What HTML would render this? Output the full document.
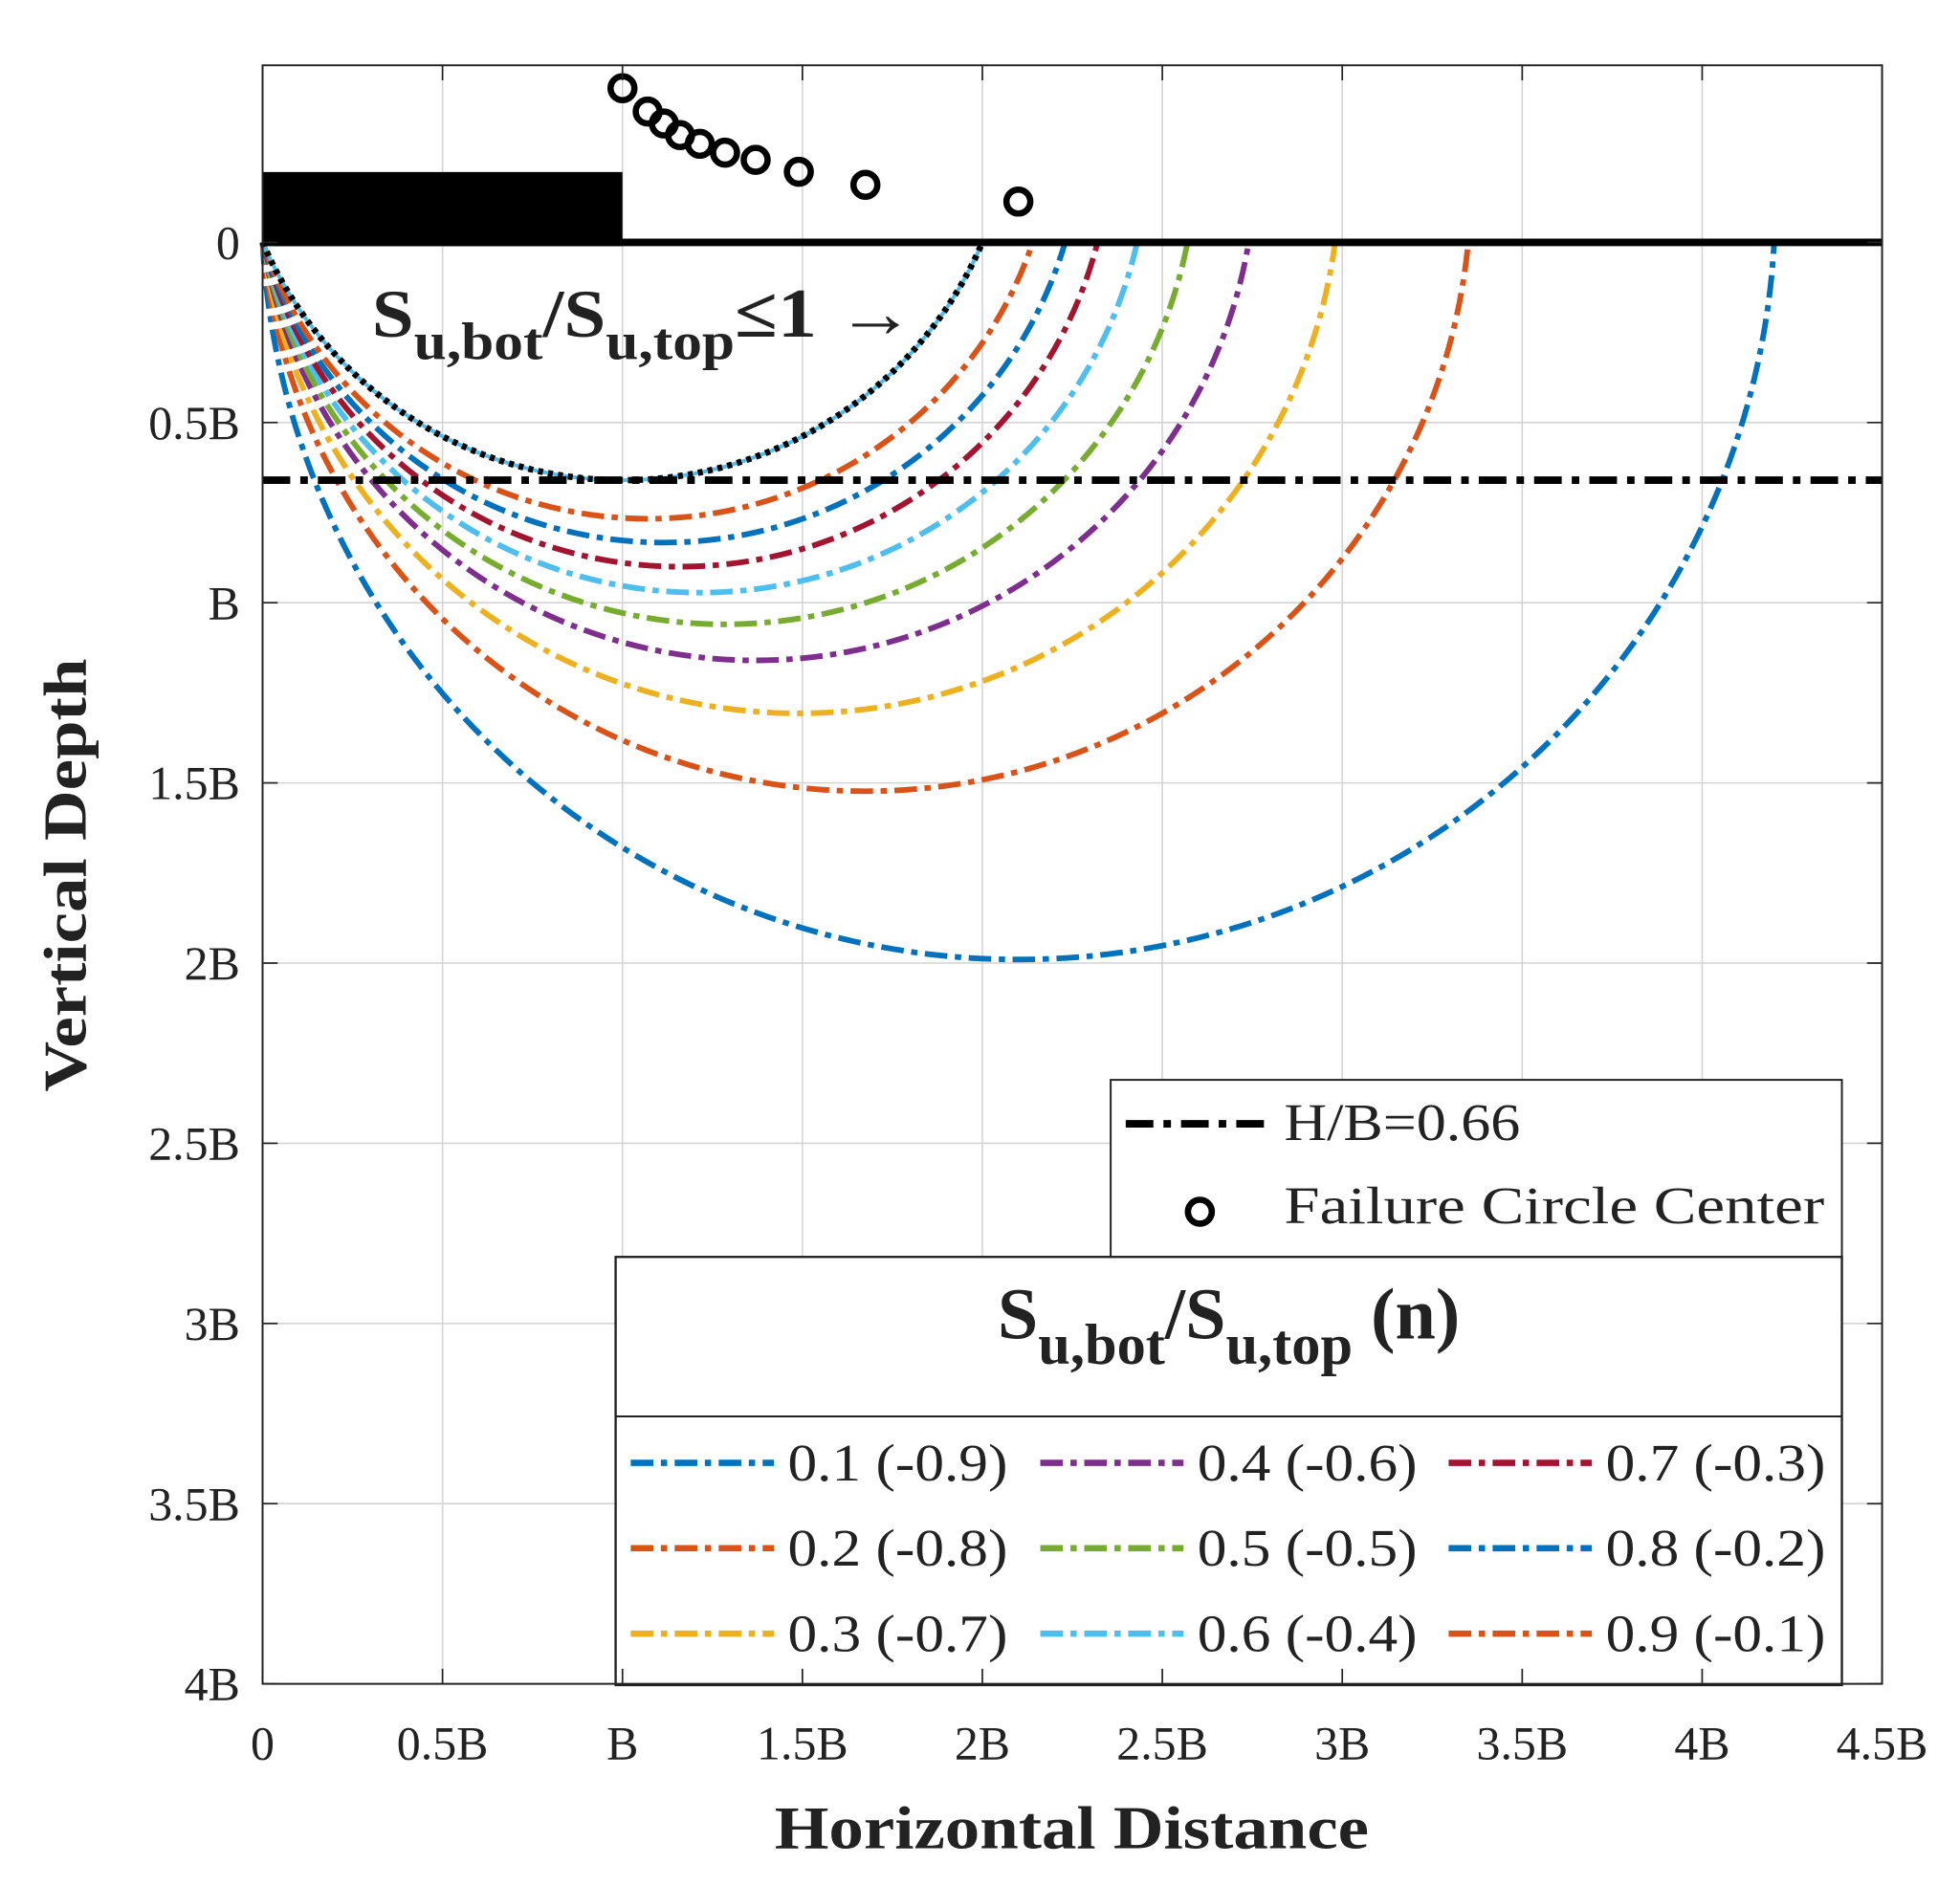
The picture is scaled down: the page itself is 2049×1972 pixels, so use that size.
<!DOCTYPE html>
<html><head><meta charset="utf-8"><style>
html,body{margin:0;padding:0;background:#fff}
svg{display:block}
text{font-family:"Liberation Serif",serif;fill:#222}
</style></head><body>
<svg id="chart" width="2049" height="1972" viewBox="0 0 1560 1502" preserveAspectRatio="none" xmlns="http://www.w3.org/2000/svg">
<g id="grid"></g>
<g id="arcs"></g>
<g id="fixed"></g>
<g id="axes"></g>
</svg>
<script>
const ratios = ["0.1 (-0.9)","0.2 (-0.8)","0.3 (-0.7)","0.4 (-0.6)","0.5 (-0.5)","0.6 (-0.4)","0.7 (-0.3)","0.8 (-0.2)","0.9 (-0.1)"];
const exitX = [4.20,3.35,2.98,2.74,2.57,2.43,2.32,2.23,2.14];
const bottomDepth = [1.99,1.523,1.307,1.16,1.06,0.972,0.90,0.833,0.767];
const colors = ["#0072BD","#D95319","#EDB120","#7E2F8E","#77AC30","#4DBEEE","#A2142F","#0072BD","#D95319"];
const refExit = 2.0, refDepth = 0.66;
const hOverB = 0.66;
const xTickVals = [0,0.5,1,1.5,2,2.5,3,3.5,4,4.5];
const xTickLabels = ["0","0.5B","B","1.5B","2B","2.5B","3B","3.5B","4B","4.5B"];
const yTickVals = [0,0.5,1,1.5,2,2.5,3,3.5,4];
const yTickLabels = ["0","0.5B","B","1.5B","2B","2.5B","3B","3.5B","4B"];

const L=209,R=1498,T=52,Bt=1341,Y0=193;
const sx=(R-L)/4.5, sy=(Bt-Y0)/4;
const px=v=>L+v*sx, py=v=>Y0+v*sy;
const NS="http://www.w3.org/2000/svg";
function mk(tag,attrs,parent,txt){const e=document.createElementNS(NS,tag);for(const k in attrs)e.setAttribute(k,attrs[k]);if(txt!==undefined)e.textContent=txt;parent.appendChild(e);return e;}
const grid=document.getElementById('grid'),arcs=document.getElementById('arcs'),fixed=document.getElementById('fixed'),axes=document.getElementById('axes');
const DD="18 6 5 6";

xTickVals.forEach((v,i)=>{
  const g=mk('line',{x1:px(v),x2:px(v),y1:T,y2:Bt,stroke:'#d4d4d4','stroke-width':1.2},grid);
  
  mk('line',{x1:px(v),x2:px(v),y1:Bt,y2:Bt-12,stroke:'#222','stroke-width':1.3},axes);
  mk('line',{x1:px(v),x2:px(v),y1:T,y2:T+12,stroke:'#222','stroke-width':1.3},axes);
  const t=mk('text',{x:px(v),y:1401,'font-size':38,'text-anchor':'middle'},axes,xTickLabels[i]);
  
});
yTickVals.forEach((v,i)=>{
  const g=mk('line',{x1:L,x2:R,y1:py(v),y2:py(v),stroke:'#d4d4d4','stroke-width':1.2},grid);
  
  mk('line',{x1:L,x2:L+12,y1:py(v),y2:py(v),stroke:'#222','stroke-width':1.3},axes);
  mk('line',{x1:R,x2:R-12,y1:py(v),y2:py(v),stroke:'#222','stroke-width':1.3},axes);
  const t=mk('text',{x:191,y:py(v)+13,'font-size':38,'text-anchor':'end'},axes,yTickLabels[i]);
  
});
const box=mk('rect',{x:L,y:T,width:R-L,height:Bt-T,fill:'none',stroke:'#222','stroke-width':1.5},axes);


function arcPath(xe,d){
  const c=((xe/2)**2-d*d)/(2*d); const r=c+d;
  return {d:`M${px(0)},${py(0)} A${r*sx},${r*sy} 0 ${c>0?0:1} 0 ${px(xe)},${py(0)}`, cx:xe/2, cy:-c};
}
const centers=[];
exitX.forEach((xe,i)=>{
  const a=arcPath(xe,bottomDepth[i]);
  const p=mk('path',{d:a.d,fill:'none',stroke:colors[i],'stroke-width':4.5,'stroke-dasharray':DD},arcs);
  
  centers.push(a);
});
const ra=arcPath(refExit,refDepth);
const rb=mk('path',{d:ra.d,fill:'none',stroke:'#000','stroke-width':5,'stroke-dasharray':'4 4'},arcs);

const rl=mk('path',{d:ra.d,fill:'none',stroke:'#4DBEEE','stroke-width':3,'stroke-dasharray':'4 4','stroke-dashoffset':4},arcs);

centers.push(ra);

const ft=mk('rect',{x:px(0),y:137,width:px(1)-px(0),height:py(0)-137+3,fill:'#000'},fixed);

const gl=mk('line',{x1:L,x2:R,y1:py(0),y2:py(0),stroke:'#000','stroke-width':6},fixed);

const hl=mk('line',{x1:L,x2:R,y1:py(hOverB),y2:py(hOverB),stroke:'#000','stroke-width':6,'stroke-dasharray':'22 8 6 8'},fixed);

centers.forEach(a=>{
  const c=mk('circle',{cx:px(a.cx),cy:py(a.cy),r:9.5,fill:'none',stroke:'#000','stroke-width':5},fixed);
  
});
const an=mk('text',{x:296,y:268,'font-size':54,'font-weight':'bold',fill:'#111',textLength:432,lengthAdjust:'spacingAndGlyphs'},fixed);

an.innerHTML='S<tspan font-size="42" dy="18">u,bot</tspan><tspan dy="-18">/S</tspan><tspan font-size="42" dy="18">u,top</tspan><tspan dy="-18" font-size="56">≤1 →</tspan>';

const lg1=mk('g',{},fixed);
mk('rect',{x:884,y:860,width:582,height:142,fill:'#fff',stroke:'#222','stroke-width':1.5},lg1);
mk('line',{x1:896,x2:1008,y1:895,y2:895,stroke:'#000','stroke-width':6,'stroke-dasharray':'22 8 6 8'},lg1);
mk('text',{x:1022,y:908,'font-size':42,textLength:188,lengthAdjust:'spacingAndGlyphs'},lg1,'H/B=0.66');
mk('circle',{cx:955,cy:965,r:9.5,fill:'none',stroke:'#000','stroke-width':5},lg1);
mk('text',{x:1022,y:974,'font-size':42,textLength:430,lengthAdjust:'spacingAndGlyphs'},lg1,'Failure Circle Center');
const lg2=mk('g',{},fixed);
mk('rect',{x:490,y:1001,width:976,height:341,fill:'#fff',stroke:'#222','stroke-width':1.8},lg2);
mk('line',{x1:490,x2:1466,y1:1128,y2:1128,stroke:'#222','stroke-width':1.5},lg2);
const lt=mk('text',{x:978,y:1066,'font-size':58,'font-weight':'bold','text-anchor':'middle',fill:'#111'},lg2);
lt.innerHTML='S<tspan font-size="46" dy="20">u,bot</tspan><tspan dy="-20">/S</tspan><tspan font-size="46" dy="20">u,top</tspan><tspan dy="-20"> (n)</tspan>';
const colX=[502,828,1153], rowY=[1165,1233,1301];
ratios.forEach((r,i)=>{
  const cx=colX[Math.floor(i/3)], cy=rowY[i%3];
  const ln=mk('line',{x1:cx,x2:cx+114,y1:cy,y2:cy,stroke:colors[i],'stroke-width':5,'stroke-dasharray':DD},lg2);
  
  const t=mk('text',{x:cx+125,y:cy+14,'font-size':42,textLength:175,lengthAdjust:'spacingAndGlyphs'},lg2,r);
  
});
const xt=mk('text',{x:853,y:1472,'font-size':48,'font-weight':'bold','text-anchor':'middle',textLength:473,lengthAdjust:'spacingAndGlyphs'},axes,'Horizontal Distance');

const yt=mk('text',{x:0,y:0,'font-size':48,'font-weight':'bold','text-anchor':'middle',textLength:345,lengthAdjust:'spacingAndGlyphs',transform:'translate(68,697) rotate(-90)'},axes,'Vertical Depth');

</script>
</body></html>
